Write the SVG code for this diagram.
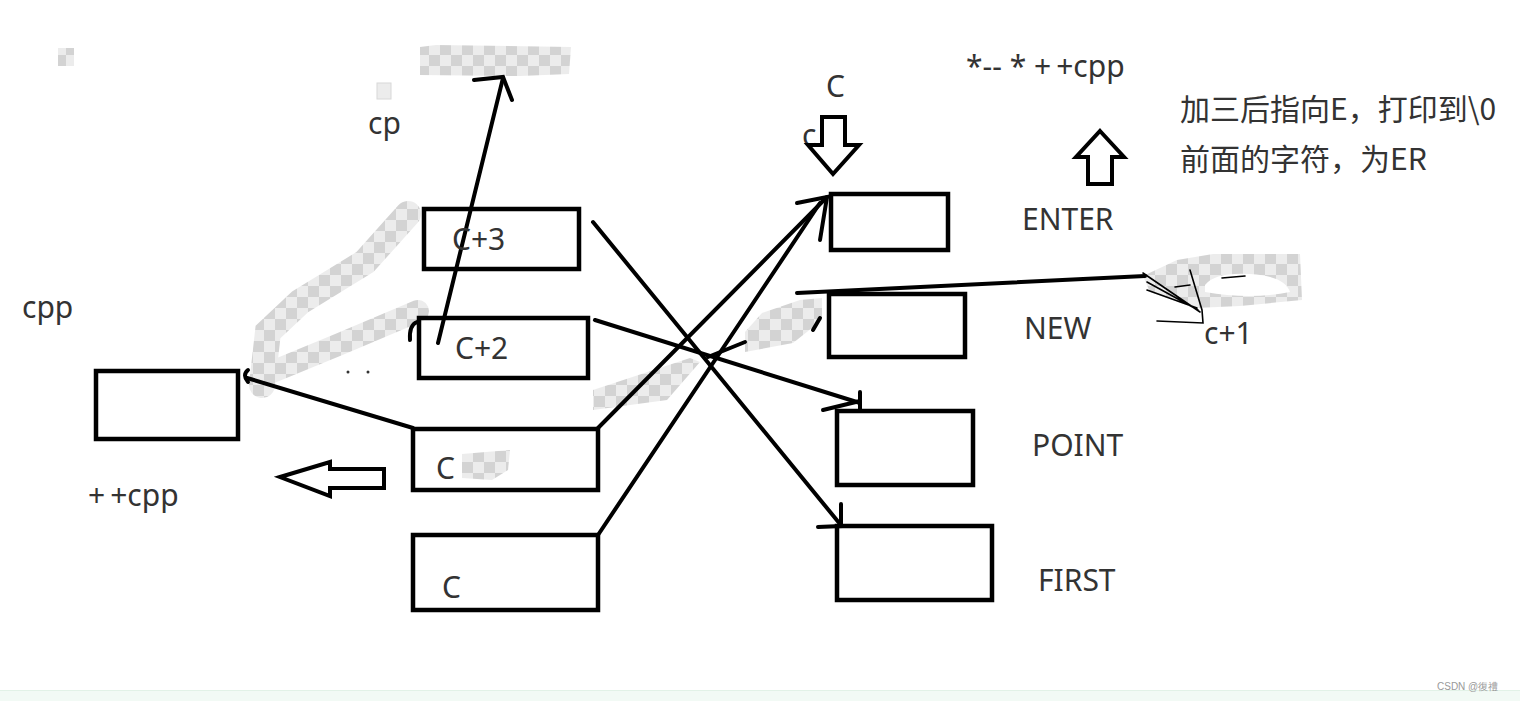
<svg xmlns="http://www.w3.org/2000/svg" width="1520" height="701" viewBox="0 0 1520 701">
<style>
.box{fill:none;stroke:#000;stroke-width:4.5}
.ln{fill:none;stroke:#000;stroke-width:4;stroke-linecap:round}
.thin{fill:none;stroke:#000;stroke-width:1.6;stroke-linecap:round}
.hol{fill:#fff;stroke:#000;stroke-width:4;stroke-linejoin:miter}
.t{font-family:"Noto Sans","Noto Sans CJK SC",sans-serif;font-size:30px;fill:#333}
.cj{font-family:"Noto Sans CJK SC","Noto Sans",sans-serif;font-size:30px;fill:#333}
.pl{letter-spacing:5px}
.ck{fill:url(#chk)}
.cks{fill:none;stroke:url(#chk)}
</style>
<defs>
<pattern id="chk" patternUnits="userSpaceOnUse" width="22" height="22">
<rect width="22" height="22" fill="#ececec"/>
<rect width="11" height="11" fill="#d3d3d3"/>
<rect x="11" y="11" width="11" height="11" fill="#d3d3d3"/>
</pattern>
</defs>
<rect width="1520" height="701" fill="#fff"/>
<rect x="0" y="690" width="1520" height="11" fill="#f2faf5"/>
<line x1="0" y1="690.5" x2="1520" y2="690.5" stroke="#e2f2e7" stroke-width="1"/>

<!-- checker smudges -->
<g id="smudges">
<rect class="ck" x="58" y="48" width="16" height="18"/>
<path class="ck" d="M420 47 L436 45 L571 47 L569 74 L520 76 L420 75 Z"/>
<rect x="377" y="83" width="14" height="16" fill="#ececec" stroke="#d8d8d8"/>
<path class="cks" stroke-width="26" stroke-linecap="round" d="M408 214 L365 262 L300 302 L268 332 L262 385"/>
<path class="cks" stroke-width="22" stroke-linecap="round" d="M418 311 L340 344 L272 372"/>
<path class="ck" d="M593 390 L593 410 L667 400 L700 362 L690 358 Z"/>
<path class="ck" d="M745 332 L745 352 L793 343 L822 320 L822 298 L800 300 L762 313 Z"/>
<path class="ck" d="M462 454 L510 450 L508 470 L492 480 L462 478 Z"/>
<path class="ck" fill-rule="evenodd" d="M1143 276 L1177 260 L1213 254 L1300 254 L1302 300 L1240 306 L1195 308 L1150 292 Z M1205 285 Q1215 272 1250 274 Q1285 276 1290 292 Q1250 300 1205 292 Z"/>
</g>

<!-- connectors -->
<g id="connectors">
<line class="ln" x1="438" y1="343" x2="503" y2="78"/>
<polyline class="ln" points="474,80 503,77 512,100"/>
<line class="ln" x1="593" y1="222" x2="840" y2="524"/>
<polyline class="ln" points="818,527 841,526 841,504"/>
<line class="ln" x1="595" y1="320" x2="860" y2="403"/>
<polyline class="ln" points="823,410 860,401"/>
<line class="ln" x1="860" y1="392" x2="860" y2="410"/>
<line class="ln" x1="598" y1="428" x2="827" y2="197"/>
<polyline class="ln" points="797,203 827,197 820,240"/>
<line class="ln" x1="598" y1="535" x2="820" y2="203"/>
<line class="ln" x1="708" y1="357" x2="745" y2="342"/>
<line class="ln" x1="813" y1="330" x2="820" y2="318"/>
<line class="ln" x1="413" y1="428" x2="247" y2="378"/>
<path class="ln" d="M248 370 Q242 375 248 382"/>
<path class="ln" d="M410 340 Q409 325 417 322"/>
<line class="ln" x1="797" y1="293" x2="1145" y2="276" stroke-width="5"/>
<path class="thin" d="M1143 273 L1200 312 M1147 282 L1198 310 M1147 290 L1197 308 M1190 270 L1202 310 L1203 323 L1157 321 M1190 285 L1175 287 M1222 278 L1245 276"/>
<circle cx="348" cy="372" r="1.5" fill="#333"/>
<circle cx="368" cy="372" r="1.5" fill="#333"/>
</g>

<!-- nodes -->
<g id="node-left"><rect class="box" x="96" y="371" width="142" height="68"/></g>
<g id="node-c3"><rect class="box" x="424" y="209" width="155" height="60"/><text class="t" x="452" y="250">C+3</text></g>
<g id="node-c2"><rect class="box" x="419" y="318" width="169" height="60"/><text class="t" x="455" y="359">C+2</text></g>
<g id="node-c1"><rect class="box" x="413" y="429" width="185" height="61"/><text class="t" x="436" y="479">C</text></g>
<g id="node-c0"><rect class="box" x="413" y="535" width="185" height="75"/><text class="t" x="442" y="598">C</text></g>
<g id="node-enter"><rect class="box" x="831" y="194" width="117" height="56"/><text class="t" x="1022" y="230">ENTER</text></g>
<g id="node-new"><rect class="box" x="829" y="294" width="136" height="63"/><text class="t" x="1024" y="339">NEW</text></g>
<g id="node-point"><rect class="box" x="837" y="411" width="136" height="74"/><text class="t" x="1032" y="456">POINT</text></g>
<g id="node-first"><rect class="box" x="837" y="526" width="155" height="74"/><text class="t" x="1038" y="591">FIRST</text></g>

<!-- arrows and labels -->
<g id="labels">
<text class="t" x="802" y="146" font-size="24">c</text>
<path class="hol" d="M822 117 L845 117 L845 145 L859 145 L833 174 L808 145 L822 145 Z"/>
<path class="hol" d="M1100 131 L1124 157 L1112 157 L1112 184 L1088 184 L1088 157 L1076 157 Z"/>
<path class="hol" d="M280 477 L330 462 L330 469 L384 469 L384 488 L330 488 L330 496 Z"/>
<text class="t" x="368" y="134">cp</text>
<text class="t" x="826" y="97">C</text>
<text class="t" x="966" y="77">*-- * <tspan class="pl">+</tspan>+cpp</text>
<text class="cj" x="1180" y="120">加三后指向E，打印到\0</text>
<text class="cj" x="1180" y="170">前面的字符，为ER</text>
<text class="t" x="1204" y="344">c+1</text>
<text class="t" x="22" y="318">cpp</text>
<text class="t" x="88" y="506"><tspan class="pl">+</tspan>+cpp</text>
<text x="1437" y="690" font-family="Liberation Sans,sans-serif" font-size="10" fill="#999">CSDN @復禮</text>
</g>
</svg>
